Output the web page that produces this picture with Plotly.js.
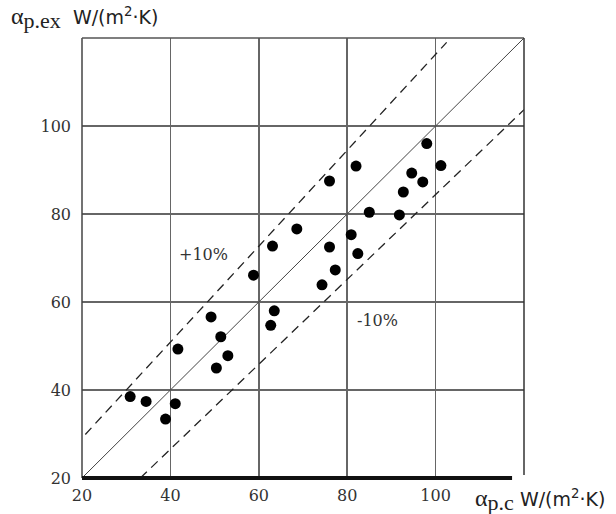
<!DOCTYPE html>
<html>
<head>
<meta charset="utf-8">
<script src="https://cdn.plot.ly/plotly-3.0.1.min.js"></script>
<style>html,body{margin:0;padding:0;background:#fff;}#chart{width:616px;height:514px;}</style>
</head>
<body>
<div id="chart"></div>
<script>
// Measured points: alpha_p.c (x) vs alpha_p.ex (y), W/(m2·K)
const alphaCalc = [30.9, 34.5, 38.9, 41.1, 41.7, 49.2, 51.4, 53.0, 50.4, 58.8, 63.1, 63.5, 62.7, 68.6,
                   76.0, 76.0, 77.3, 74.3, 80.9, 82.4, 82.0, 85.0, 91.8, 92.7, 94.6, 97.1, 98.0, 101.2];
const alphaExp  = [38.5, 37.4, 33.4, 36.9, 49.3, 56.6, 52.1, 47.8, 45.0, 66.1, 72.7, 58.0, 54.7, 76.6,
                   87.5, 72.5, 67.3, 63.9, 75.3, 71.0, 90.9, 80.4, 79.8, 85.0, 89.3, 87.3, 96.0, 91.0];

// Reference lines
const equalX = [20, 120];
const equalY = [20, 120];
const upperX = [20.75, 102.5];
const upperY = [29.9, 119.0];
const lowerX = [33.2, 120];
const lowerY = [20, 103.7];

const tickVals = [20, 40, 60, 80, 100];
const tickText = ['20', '40', '60', '80', '100'];

const serif = 'DejaVu Serif, serif';

const traces = [
  {x: equalX, y: equalY, mode: 'lines', line: {color: '#444', width: 1}, hoverinfo: 'skip'},
  {x: upperX, y: upperY, mode: 'lines', line: {color: '#222', width: 1.3, dash: '9px,6px'}, hoverinfo: 'skip'},
  {x: lowerX, y: lowerY, mode: 'lines', line: {color: '#222', width: 1.3, dash: '9px,6px'}, hoverinfo: 'skip'},
  {x: alphaCalc, y: alphaExp, mode: 'markers', marker: {color: '#000', size: 11}, cliponaxis: false}
];

const layout = {
  width: 616, height: 514,
  margin: {l: 82, r: 92, t: 38, b: 36},
  paper_bgcolor: '#fff', plot_bgcolor: '#fff',
  showlegend: false,
  font: {family: serif, size: 16, color: '#333'},
  xaxis: {
    range: [20, 120], tickvals: tickVals, ticktext: tickText,
    showgrid: true, gridcolor: '#666', gridwidth: 1.5,
    zeroline: false, showline: false, ticks: '', ticklabelstandoff: 6,
    tickfont: {family: serif, size: 16, color: '#333'}, fixedrange: true
  },
  yaxis: {
    range: [20, 120], tickvals: tickVals, ticktext: tickText,
    showgrid: true, gridcolor: '#666', gridwidth: 1.5,
    zeroline: false, showline: false, ticks: '', ticklabelstandoff: 10,
    tickfont: {family: serif, size: 16, color: '#333'}, fixedrange: true
  },
  shapes: [
    {type: 'line', xref: 'paper', yref: 'paper', x0: 0, x1: 0, y0: 0, y1: 1, line: {color: '#444', width: 1.5}},
    {type: 'line', xref: 'paper', yref: 'paper', x0: 0, x1: 1, y0: 1, y1: 1, line: {color: '#555', width: 1.5}},
    {type: 'line', xref: 'paper', yref: 'paper', x0: 1, x1: 1, y0: 0.007, y1: 1, line: {color: '#333', width: 1.5}},
    {type: 'line', xref: 'paper', yref: 'paper', x0: 0, x1: 0.973, y0: 0, y1: 0, line: {color: '#111', width: 4}}
  ],
  annotations: [
    {x: 47.4, y: 70.9, xref: 'x', yref: 'y', text: '+10%', showarrow: false, font: {family: serif, size: 16, color: '#333'}},
    {x: 86.9, y: 55.7, xref: 'x', yref: 'y', text: '-10%', showarrow: false, font: {family: serif, size: 16, color: '#333'}},
    {x: -0.165, y: 1.045, xref: 'paper', yref: 'paper', xanchor: 'left', yanchor: 'middle', showarrow: false,
     text: '<span style="font-family:Liberation Serif;font-size:24px">α</span><sub><span style="font-family:Liberation Serif;font-size:22px">p.ex</span></sub>  W/(m<sup>2</sup>·K)',
     font: {family: 'DejaVu Sans, sans-serif', size: 19, color: '#222'}},
    {x: 0.885, y: -0.05, xref: 'paper', yref: 'paper', xanchor: 'left', yanchor: 'middle', showarrow: false,
     text: '<span style="font-family:Liberation Serif;font-size:24px">α</span><sub><span style="font-family:Liberation Serif;font-size:22px">p.c</span></sub> W/(m<sup>2</sup>·K)',
     font: {family: 'DejaVu Sans, sans-serif', size: 19, color: '#222'}}
  ]
};

Plotly.newPlot('chart', traces, layout, {displayModeBar: false, staticPlot: true});
</script>
</body>
</html>
